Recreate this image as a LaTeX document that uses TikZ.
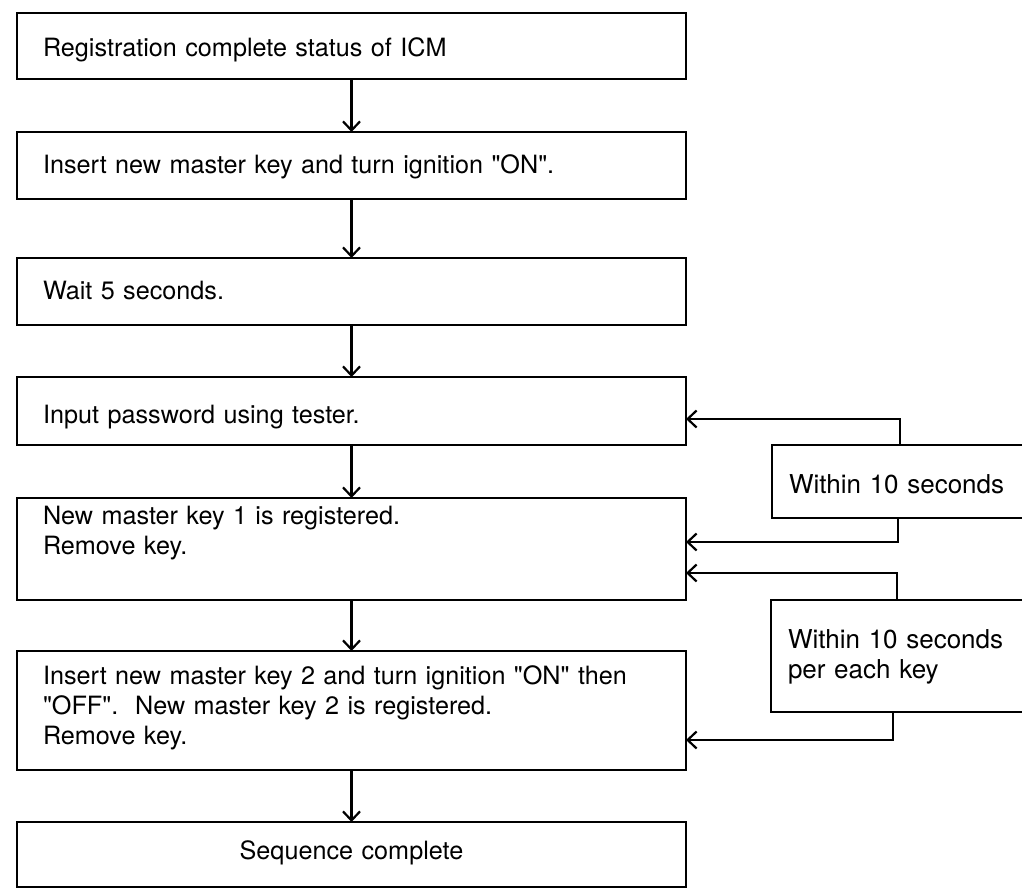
\documentclass[tikz,border=0pt]{standalone}
\usepackage{fontspec}
\newfontfamily\helv{TeX Gyre Heros}
\usetikzlibrary{arrows.meta}

\begin{document}
\begin{tikzpicture}[x=1pt,y=-1pt,
  box/.style={draw,line width=2.2pt,outer sep=0pt,anchor=north west,inner xsep=26pt,inner ysep=0pt,text width=617pt,align=left,font=\helv\fontsize{25.2}{30}\selectfont},
  sidebox/.style={draw,line width=2.2pt,outer sep=0pt,anchor=north west,inner xsep=17pt,inner ysep=0pt,text width=240pt,align=left,font=\helv\fontsize{26}{30}\selectfont},
  arr/.style={line width=2.2pt,-{Straight Barb[length=9pt,width=17pt]}}]
\clip (0,0) rectangle (1022,890);
\node[box,text height=44pt,text depth=22pt] (reg) at (17,13) {Registration complete status of ICM};
\node[box,text height=42pt,text depth=25pt] (ins1) at (17,132) {Insert new master key and turn ignition "ON".};
\node[box,text height=42pt,text depth=25pt] (wait) at (17,258) {Wait 5 seconds.};
\node[box,text height=46pt,text depth=22pt] (pass) at (17,377) {Input password using tester.};
\node[box,text height=26pt,text depth=76pt] (key1) at (17,498) {New master key 1 is registered.\\Remove key.};
\node[box,text height=33pt,text depth=86pt] (key2) at (17,651) {Insert new master key 2 and turn ignition "ON" then\\"OFF".~\ New master key 2 is registered.\\Remove key.};
\node[box,align=center,text height=37pt,text depth=28pt] (done) at (17,822) {Sequence complete};
\node[sidebox,text height=48pt,text depth=25pt] (w1) at (772,445) {Within 10 seconds};
\node[sidebox,text height=48pt,text depth=64pt] (w2) at (771,600) {Within 10 seconds\\per each key};
\draw[arr] (reg) -- (ins1);
\draw[arr] (ins1) -- (wait);
\draw[arr] (wait) -- (pass);
\draw[arr] (pass) -- (key1);
\draw[arr] (key1) -- (key2);
\draw[arr] (key2) -- (done);
\coordinate (t1) at (900,419);
\coordinate (t2) at (898,542);
\coordinate (t3) at (897,573);
\coordinate (t4) at (893,740);
\draw[arr] (w1.north -| t1) |- (pass.east |- t1);
\draw[arr] (w1.south -| t2) |- (key1.east |- t2);
\draw[arr] (w2.north -| t3) |- (key1.east |- t3);
\draw[arr] (w2.south -| t4) |- (key2.east |- t4);
\end{tikzpicture}
\end{document}
